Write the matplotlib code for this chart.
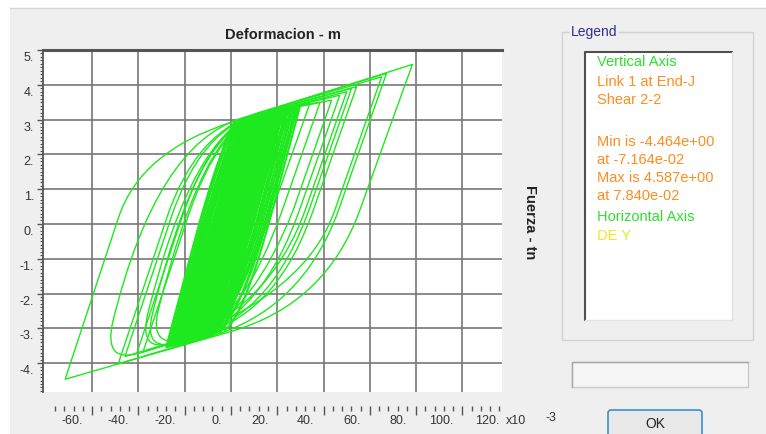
import matplotlib
matplotlib.use("Agg")
import matplotlib.pyplot as plt
from matplotlib.path import Path
from matplotlib.patches import PathPatch, Rectangle, FancyBboxPatch
from matplotlib.transforms import offset_copy
from matplotlib.ticker import FixedLocator, MultipleLocator

plt.rcParams['font.family'] = ['Liberation Sans', 'DejaVu Sans']

# Link 1, shear 2-2 vs deformation (x1e-3 m, tn)
# large cycles: positive peak, unloading end / knee / rejoin, negative peak,
# reloading end / knee / rejoin
big_cycles = [
    [(78.4, 4.587), (55.7, 0.40), (41.0, -2.31), (0.0, -3.09), (-71.64, -4.464), (-48.5, 0.2), (-38.9, 2.09), (0.0, 2.92)],
    [(67.2, 4.33), (46.5, 0.4), (31.7, -2.32), (-5.0, -3.15), (-48.7, -4.02), (-27.6, 0.2), (-15.4, 2.63), (12.0, 3.2)],
    [(65.1, 4.23), (44.9, 0.4), (30.7, -2.35), (-40.0, -3.72), (-55.3, -4.0), (-51.0, -2.8), (-32.1, 2.31), (5.0, 3.05)],
    [(54.3, 3.95), (35.6, 0.4), (20.4, -2.49), (-10.0, -3.1), (-45.8, -3.81), (-25.75, 0.2), (-13.2, 2.71), (12.0, 3.17)],
    [(52.1, 3.9), (33.7, 0.4), (18.2, -2.48), (-12.0, -3.14), (-40.7, -3.72), (-21.1, 0.2), (-8.1, 2.8), (14.0, 3.2)],
    [(50.0, 3.8), (32.1, 0.4), (16.4, -2.48), (-25.0, -3.42), (-40.0, -3.72), (-36.0, -2.6), (-16.5, 2.67), (12.0, 3.15)],
    [(43.5, 3.56), (26.9, 0.4), (10.2, -2.45), (-15.0, -3.28), (-27.8, -3.53), (-9.15, 0.2), (4.9, 3.02), (20.0, 3.25)],
    [(34.1, 3.47), (17.9, 0.4), (0.3, -2.95), (-22.0, -3.4), (-38.1, -3.72), (-34.0, -2.6), (-14.2, 2.74), (10.0, 3.1)],
    [(29.8, 3.42), (13.9, 0.4), (-4.2, -3.04), (-15.0, -3.25), (-25.0, -3.45), (-6.75, 0.2), (7.6, 3.07), (18.0, 3.24)],
    [(47.0, 3.7), (29.6, 0.4), (13.4, -2.68), (-18.0, -3.31), (-35.6, -3.63), (-31.5, -2.5), (-12.0, 2.76), (12.0, 3.15)],
    [(38.5, 3.5), (22.2, 0.4), (5.3, -2.81), (-18.0, -3.28), (-38.0, -3.68), (-18.6, 0.2), (-5.2, 2.88), (15.0, 3.2)],
]
# cycles whose negative end turns round instead of a sharp tip
big_rounded = [False, False, True, False, False, True, False, True, False, True, False]

# small cycles of the dense band: positive peak, unloading end, knee,
# negative peak, reloading end, knee
small_cycles = [
    [(22, 3.3), (10.3, 0.375), (-3.45, -3.06), (-8, -3.2), (3.7, -0.275), (17.45, 3.16)],
    [(20, 3.25), (8.3, 0.325), (-5.32, -3.08), (-11, -3.25), (0.7, -0.325), (14.32, 3.08)],
    [(18, 3.22), (6.26, 0.29), (-7.27, -3.1), (-14, -3.3), (-2.26, -0.37), (11.27, 3.02)],
    [(16, 3.2), (4.21, 0.25), (-9.41, -3.15), (-16, -3.35), (-4.21, -0.4), (9.41, 3.0)],
    [(14, 3.15), (2.21, 0.2), (-11.41, -3.2), (-18, -3.4), (-6.21, -0.45), (7.41, 2.95)],
    [(12, 3.12), (0.23, 0.18), (-13.36, -3.22), (-20, -3.42), (-8.23, -0.48), (5.36, 2.92)],
    [(10, 3.08), (-1.75, 0.14), (-15.32, -3.25), (-22, -3.45), (-10.25, -0.51), (3.32, 2.88)],
    [(8, 3.05), (-3.79, 0.1), (-17.41, -3.3), (-24, -3.5), (-12.21, -0.55), (1.41, 2.85)],
    [(6, 3.0), (-5.74, 0.07), (-19.27, -3.32), (-26, -3.52), (-14.26, -0.59), (-0.73, 2.8)],
    [(4, 2.98), (-7.75, 0.04), (-21.32, -3.35), (-28, -3.55), (-16.25, -0.61), (-2.68, 2.78)],
    [(25, 3.35), (13.35, 0.44), (-0.32, -2.98), (-5, -3.12), (6.65, -0.21), (20.32, 3.21)],
    [(19, 3.25), (6.94, 0.235), (-5.86, -2.97), (-22, -3.45), (-9.94, -0.435), (2.86, 2.77)],
    [(13, 3.15), (1.03, 0.16), (-11.91, -3.08), (-26, -3.5), (-14.03, -0.51), (-1.09, 2.73)],
    [(24, 3.3), (12.03, 0.31), (-0.91, -2.93), (-15, -3.35), (-3.03, -0.36), (9.91, 2.88)],
    [(30, 3.42), (18.35, 0.51), (5.09, -2.81), (-3, -3.05), (8.65, -0.14), (21.91, 3.18)],
    [(15, 3.18), (3.37, 0.27), (-10.55, -3.21), (-13, -3.28), (-1.37, -0.37), (12.55, 3.11)],
    [(2, 2.95), (-9.61, 0.05), (-23.36, -3.39), (-27, -3.5), (-15.39, -0.6), (-1.64, 2.84)],
    [(27, 3.38), (14.98, 0.374), (1.95, -2.88), (-12, -3.3), (0.02, -0.294), (13.05, 2.96)],
    [(11, 3.1), (-0.84, 0.14), (-14.14, -3.19), (-24, -3.48), (-12.16, -0.52), (1.14, 2.81)],
    [(21, 3.28), (9.01, 0.28), (-4.09, -2.99), (-17, -3.38), (-5.01, -0.38), (8.09, 2.89)],
    [(7, 3.02), (-4.59, 0.12), (-18.59, -3.38), (-20, -3.42), (-8.41, -0.52), (5.59, 2.98)],
    [(17, 3.2), (5.44, 0.31), (-8.64, -3.21), (-9, -3.22), (2.56, -0.33), (16.64, 3.19)],
    [(21, 3.275), (9.3, 0.35), (-4.385, -3.07), (-9.5, -3.225), (2.2, -0.3), (15.885, 3.12)],
    [(19, 3.235), (7.28, 0.3075), (-6.295, -3.09), (-12.5, -3.275), (-0.78, -0.3475), (12.795, 3.05)],
    [(17, 3.21), (5.235, 0.27), (-8.34, -3.125), (-15, -3.325), (-3.235, -0.385), (10.34, 3.01)],
    [(15, 3.175), (3.21, 0.225), (-10.41, -3.175), (-17, -3.375), (-5.21, -0.425), (8.41, 2.975)],
    [(13, 3.135), (1.22, 0.19), (-12.385, -3.21), (-19, -3.41), (-7.22, -0.465), (6.385, 2.935)],
    [(11, 3.1), (-0.76, 0.16), (-14.34, -3.235), (-21, -3.435), (-9.24, -0.495), (4.34, 2.9)],
    [(9, 3.065), (-2.77, 0.12), (-16.365, -3.275), (-23, -3.475), (-11.23, -0.53), (2.365, 2.865)],
    [(7, 3.025), (-4.765, 0.085), (-18.34, -3.31), (-25, -3.51), (-13.235, -0.57), (0.34, 2.825)],
    [(5, 2.99), (-6.745, 0.055), (-20.295, -3.335), (-27, -3.535), (-15.255, -0.6), (-1.705, 2.79)],
    [(24.5, 3.325), (12.69, 0.375), (-0.615, -2.955), (-10, -3.235), (1.81, -0.285), (15.115, 3.045)],
    [(16, 3.2), (3.985, 0.1975), (-8.885, -3.025), (-24, -3.475), (-11.985, -0.4725), (0.885, 2.75)],
    [(28.5, 3.4), (16.665, 0.442), (3.52, -2.845), (-7.5, -3.175), (4.335, -0.217), (17.48, 3.07)],
    [(22.5, 3.29), (10.52, 0.295), (-2.5, -2.96), (-16, -3.365), (-4.02, -0.37), (9.0, 2.885)],
    [(6.5, 3.025), (-5.225, 0.095), (-18.75, -3.29), (-25.5, -3.49), (-13.775, -0.56), (-0.25, 2.825)],
    [(20, 3.265), (7.975, 0.2575), (-4.975, -2.98), (-19.5, -3.415), (-7.475, -0.4075), (5.475, 2.83)],
    [(12, 3.125), (0.095, 0.15), (-13.025, -3.135), (-25, -3.49), (-13.095, -0.515), (0.025, 2.77)],
    [(26, 3.35), (13.85, 0.31), (1.32, -2.82), (-18, -3.4), (-5.85, -0.36), (6.68, 2.77)],
    [(23, 3.3), (10.9, 0.28), (-1.68, -2.87), (-20, -3.42), (-7.9, -0.4), (4.68, 2.75)],
    [(28, 3.38), (15.89, 0.35), (3.27, -2.8), (-15, -3.35), (-2.89, -0.32), (9.73, 2.83)],
    [(20, 3.26), (7.87, 0.23), (-4.64, -2.9), (-24, -3.48), (-11.87, -0.45), (0.64, 2.68)],
    [(25, 3.33), (13.1, 0.36), (0.0, -2.92), (-12, -3.28), (-0.1, -0.31), (13.0, 2.97)],
    [(18, 3.22), (5.9, 0.2), (-6.55, -2.92), (-26, -3.5), (-13.9, -0.48), (-1.45, 2.64)],
    [(29, 3.4), (17.08, 0.42), (4.09, -2.83), (-9, -3.22), (2.92, -0.24), (15.91, 3.01)],
    [(24, 3.3), (11.85, 0.26), (-0.41, -2.8), (-22, -3.45), (-9.85, -0.41), (2.41, 2.65)],
    [(22, 3.29), (9.96, 0.28), (-2.82, -2.92), (-19, -3.4), (-6.96, -0.39), (5.82, 2.81)],
    [(27, 3.36), (14.9, 0.34), (2.32, -2.81), (-16, -3.36), (-3.9, -0.34), (8.68, 2.81)],
]

x_grid = [-60, -40, -20, 0, 20, 40, 60, 80, 100]
x_labels = [-60, -40, -20, 0, 20, 40, 60, 80, 100, 120]
y_grid = [-4, -3, -2, -1, 0, 1, 2, 3, 4, 5]

legend_lines = [
    ("Vertical Axis", '#2ee02e', 62),
    ("Link 1 at End-J", '#ff8c1e', 82),
    ("Shear 2-2", '#ff8c1e', 100),
    ("Min is -4.464e+00", '#ff8c1e', 142),
    ("at -7.164e-02", '#ff8c1e', 160),
    ("Max is 4.587e+00", '#ff8c1e', 178),
    ("at 7.840e-02", '#ff8c1e', 196),
    ("Horizontal Axis", '#2ee02e', 217),
    ("DE Y", '#eaea22', 236),
]

W, H = 766, 434
GREEN = '#1ee81e'

fig = plt.figure(figsize=(W / 100, H / 100), dpi=100)
fig.patch.set_facecolor('white')

# window background in pixel coordinates
bg = fig.add_axes([0, 0, 1, 1])
bg.set_xlim(0, W)
bg.set_ylim(H, 0)
bg.axis('off')
bg.add_patch(Rectangle((10, 8), W - 10, H - 8, fc='#efefef', ec='none'))
bg.plot([10, W], [8, 8], color='#d6d6d6', lw=1)

# plot area
ax = fig.add_axes([43 / W, 1 - 392 / H, (502 - 43) / W, (392 - 50) / H])
ax.set_facecolor('white')
ax.set_xlim(-81.2, 117.1)
ax.set_ylim(-4.83, 5.0)
ax.xaxis.set_major_locator(FixedLocator(x_grid))
ax.xaxis.set_minor_locator(FixedLocator([v for v in range(-76, 117, 4) if v % 20]))
ax.yaxis.set_major_locator(FixedLocator(y_grid))
ax.yaxis.set_minor_locator(MultipleLocator(0.1))
ax.grid(True, which='major', color='#777777', lw=1.2)
ax.set_axisbelow(True)

ax.spines['top'].set_color('#555555')
ax.spines['top'].set_linewidth(2.2)
ax.spines['left'].set_color('#555555')
ax.spines['left'].set_linewidth(1.3)
ax.spines['right'].set_visible(False)
ax.spines['bottom'].set_position(('outward', 10))
ax.spines['bottom'].set_color('none')

ax.tick_params(axis='x', which='major', direction='out', length=6.5, width=1,
               color='#555555', labelbottom=False)
ax.tick_params(axis='x', which='minor', direction='out', length=3.6, width=1,
               color='#555555')
ax.tick_params(axis='y', which='major', direction='out', length=4.3, width=1,
               color='#555555', labelleft=False)
ax.tick_params(axis='y', which='minor', direction='out', length=2.2, width=0.8,
               color='#555555')

xt = offset_copy(ax.get_xaxis_transform(), fig=fig, x=-9, y=-29, units='dots')
for v in x_labels:
    ax.text(v, 0, '%d.' % v, transform=xt, ha='right', va='center',
            fontsize=9, color='#333333', clip_on=False)
yt = offset_copy(ax.get_yaxis_transform(), fig=fig, x=-9, y=-8, units='dots')
for v in y_grid:
    ax.text(0, v, '%d.' % v, transform=yt, ha='right', va='center',
            fontsize=9, color='#333333', clip_on=False)

# hysteresis cycles
for cyc, rnd in zip(big_cycles, big_rounded):
    pk, au, cu, bu, nk, ar, cr, br = cyc
    verts = [pk, au, cu, bu, nk, ar, cr, br, pk]
    if rnd:
        codes = [Path.MOVETO, Path.LINETO, Path.CURVE3, Path.CURVE3, Path.CURVE3,
                 Path.CURVE3, Path.CURVE3, Path.CURVE3, Path.LINETO]
    else:
        codes = [Path.MOVETO, Path.LINETO, Path.CURVE3, Path.CURVE3, Path.LINETO,
                 Path.LINETO, Path.CURVE3, Path.CURVE3, Path.LINETO]
    ax.add_patch(PathPatch(Path(verts, codes), fill=False, ec=GREEN, lw=1.0, zorder=3))

for cyc in small_cycles:
    pk, au, cu, nk, ar, cr = cyc
    verts = [pk, au, cu, nk, ar, cr, pk]
    codes = [Path.MOVETO, Path.LINETO, Path.CURVE3, Path.CURVE3,
             Path.LINETO, Path.CURVE3, Path.CURVE3]
    ax.add_patch(PathPatch(Path(verts, codes), fill=False, ec=GREEN, lw=1.5, zorder=3))

# axis titles
bg.text(283, 35, 'Deformacion - m', ha='center', va='center', fontsize=10.5,
        fontweight='bold', color='#222222')
bg.text(530, 222, 'Fuerza - tn', ha='center', va='center', rotation=-90,
        fontsize=10.5, fontweight='bold', color='#222222')
bg.text(506, 421, 'x10', ha='left', va='center', fontsize=9, color='#333333')
bg.text(546, 418, '-3', ha='left', va='center', fontsize=9, color='#333333')

# legend panel
bg.add_patch(Rectangle((562, 32), 191, 308, fc='none', ec='#d2d2d2', lw=1))
bg.text(571, 32, 'Legend', ha='left', va='center', fontsize=10, color='#2e2e96',
        bbox=dict(fc='#efefef', ec='none', pad=1))
bg.add_patch(Rectangle((585, 52), 147, 268, fc='white', ec='none'))
bg.plot([585, 585, 732], [320, 52, 52], color='#505050', lw=1.5)
bg.plot([732, 732, 585], [52, 320, 320], color='#e2e2e2', lw=1)
for txt, col, yy in legend_lines:
    bg.text(597, yy, txt, ha='left', va='center', fontsize=10.5, color=col)

# status box and button
bg.add_patch(Rectangle((572, 362), 176, 25, fc='#f6f6f6', ec='#c9c9c9', lw=1))
bg.plot([572, 572, 748], [387, 362, 362], color='#a8a8a8', lw=1)
bg.add_patch(FancyBboxPatch((608, 410), 94, 34, boxstyle='round,pad=0,rounding_size=3',
                            fc='#e8e8e8', ec='#3b8ed0', lw=1.2))
bg.text(655, 424, 'OK', ha='center', va='center', fontsize=10, color='#222222')

fig.savefig('out.png', dpi=100, facecolor=fig.get_facecolor())
